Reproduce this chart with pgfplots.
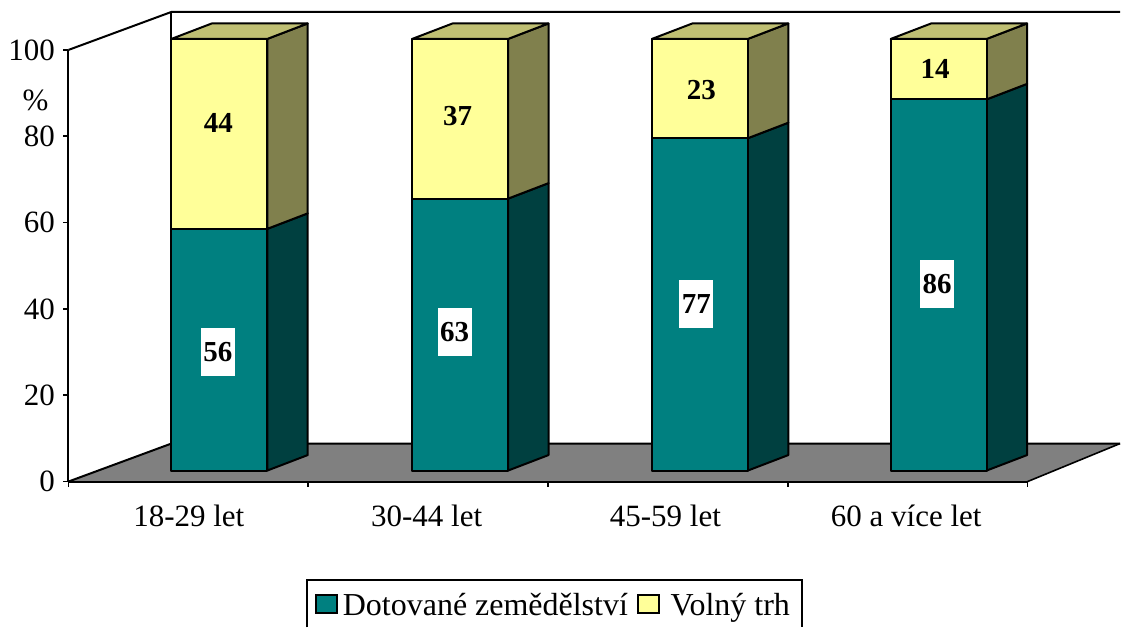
\documentclass[border=0pt]{standalone}
\usepackage{fontspec}
\setmainfont{Liberation Serif}
\usepackage{pgfplots}
\pgfplotsset{compat=1.18}
\definecolor{teal1}{HTML}{008080}
\definecolor{teal2}{HTML}{004040}
\definecolor{yel1}{HTML}{FFFF99}
\definecolor{yel2}{HTML}{80804D}
\definecolor{yel3}{HTML}{BFBF73}
\definecolor{floorc}{HTML}{808080}
\newcommand{\fs}{\fontsize{31}{33}\selectfont}
\newcommand{\fl}{\fontsize{32}{34}\selectfont}
\newcommand{\fb}{\fontsize{29}{31}\selectfont\bfseries}
\pgfplotsset{common/.style={
  x=1pt, y=4.32pt, xmin=68.5, xmax=1028.5, ymin=0, ymax=100,
  clip=false, anchor=origin, at={(0,0)}, scale only axis=false}}
\tikzset{face/.style={draw=black, line width=2pt, line join=round, yshift=11pt}}
\begin{document}
\begin{tikzpicture}
\begin{axis}[common,
  axis x line=bottom, axis y line=left, axis line style={-, line width=2pt, black},
  xtick={189,427,666,907},
  xticklabels={18-29 let,30-44 let,45-59 let,60 a více let},
  minor xtick={68.5,308.5,548.5,788.5,1028.5},
  ytick={0,20,40,60,80,100},
  tick align=outside,
  major tick length=5pt, minor tick length=5pt,
  tick style={black, line width=1.8pt},
  major x tick style={draw=none},
  /pgf/number format/assume math mode=true,
  tick label style={font=\fs},
  xticklabel style={yshift=-15pt},
  yticklabel style={xshift=-5pt},
]
% page extent
\path (axis cs:0,-33.8) rectangle (axis cs:1121,111.57);
% floor
\addplot[fill=floorc, draw=none] coordinates {(68.5,0) (171.5,8.8) (1121,8.8) (1028.5,0)} --cycle;
% walls and floor edges
\addplot[black, line width=2pt, line join=round] coordinates {(68.5,0) (171.5,8.8) (1121,8.8)};
\addplot[black, line width=1.6pt] coordinates {(1028.5,0) (1121,8.8)};
\addplot[black, line width=2pt, line join=round] coordinates {(68.5,100) (171.5,108.8) (1121,108.8)};
\addplot[black, line width=2pt] coordinates {(171.5,8.8) (171.5,108.8)};
\draw[black, line width=2pt] (axis cs:68.5,0) -- (axis cs:1028.5,0);
% side faces, teal
\addplot[face, fill=teal2] coordinates {(267.5,0) (308,3.59) (308,59.59) (267.5,56)} --cycle;
\addplot[face, fill=teal2] coordinates {(508.5,0) (549,3.59) (549,66.59) (508.5,63)} --cycle;
\addplot[face, fill=teal2] coordinates {(748.5,0) (789,3.59) (789,80.59) (748.5,77)} --cycle;
\addplot[face, fill=teal2] coordinates {(987.5,0) (1028,3.59) (1028,89.59) (987.5,86)} --cycle;
% side faces, yellow
\addplot[face, fill=yel2] coordinates {(267.5,56) (308,59.59) (308,103.59) (267.5,100)} --cycle;
\addplot[face, fill=yel2] coordinates {(508.5,63) (549,66.59) (549,103.59) (508.5,100)} --cycle;
\addplot[face, fill=yel2] coordinates {(748.5,77) (789,80.59) (789,103.59) (748.5,100)} --cycle;
\addplot[face, fill=yel2] coordinates {(987.5,86) (1028,89.59) (1028,103.59) (987.5,100)} --cycle;
% top faces
\addplot[face, fill=yel3] coordinates {(171.5,100) (212,103.59) (308,103.59) (267.5,100)} --cycle;
\addplot[face, fill=yel3] coordinates {(412.5,100) (453,103.59) (549,103.59) (508.5,100)} --cycle;
\addplot[face, fill=yel3] coordinates {(652.5,100) (693,103.59) (789,103.59) (748.5,100)} --cycle;
\addplot[face, fill=yel3] coordinates {(891.5,100) (932,103.59) (1028,103.59) (987.5,100)} --cycle;
\end{axis}
\begin{axis}[common, hide axis, ybar stacked, bar width=96pt, bar shift=0pt]
\addplot[fill=teal1, draw=black, line width=2pt, line join=round, yshift=11pt]
  coordinates {(219.5,56) (460.5,63) (700.5,77) (939.5,86)};
\addplot[fill=yel1, draw=black, line width=2pt, line join=round, yshift=11pt]
  coordinates {(219.5,44) (460.5,37) (700.5,23) (939.5,14)};
\end{axis}
\begin{axis}[common, hide axis]
% data labels
\tikzset{wl/.style={fill=white, inner sep=0pt, minimum width=34pt, minimum height=48pt, font=\fb},
         yl/.style={inner sep=0pt, font=\fb}}
\node[wl] at (axis cs:218,30.1) {\raisebox{-2pt}{56}};
\node[wl] at (axis cs:455,34.7) {63};
\node[wl] at (axis cs:697,41.2) {77};
\node[wl] at (axis cs:938,45.8) {\raisebox{-1pt}{86}};
\node[yl] at (axis cs:218.5,83.1) {44};
\node[yl] at (axis cs:458,84.7) {37};
\node[yl] at (axis cs:702,90.6) {23};
\node[yl] at (axis cs:936,95.6) {14};
\node[font=\fs, inner sep=0pt] at (axis cs:35.5,88.2) {\%};
% legend
\draw[black, line width=2pt] (axis cs:307.5,-33.8) -- (axis cs:307.5,-22.7) -- (axis cs:803,-22.7) -- (axis cs:803,-33.8);
\draw[black, line width=2pt, fill=teal1] (axis cs:316,-26.3) rectangle (axis cs:337,-30.4);
\draw[black, line width=2pt, fill=yel1] (axis cs:639,-26.3) rectangle (axis cs:660,-30.4);
\node[font=\fl, anchor=base west, inner sep=0pt] at (axis cs:343,-31) {Dotované zemědělství};
\node[font=\fl, anchor=base west, inner sep=0pt] at (axis cs:671,-31) {Volný trh};
\end{axis}
\end{tikzpicture}
\end{document}
